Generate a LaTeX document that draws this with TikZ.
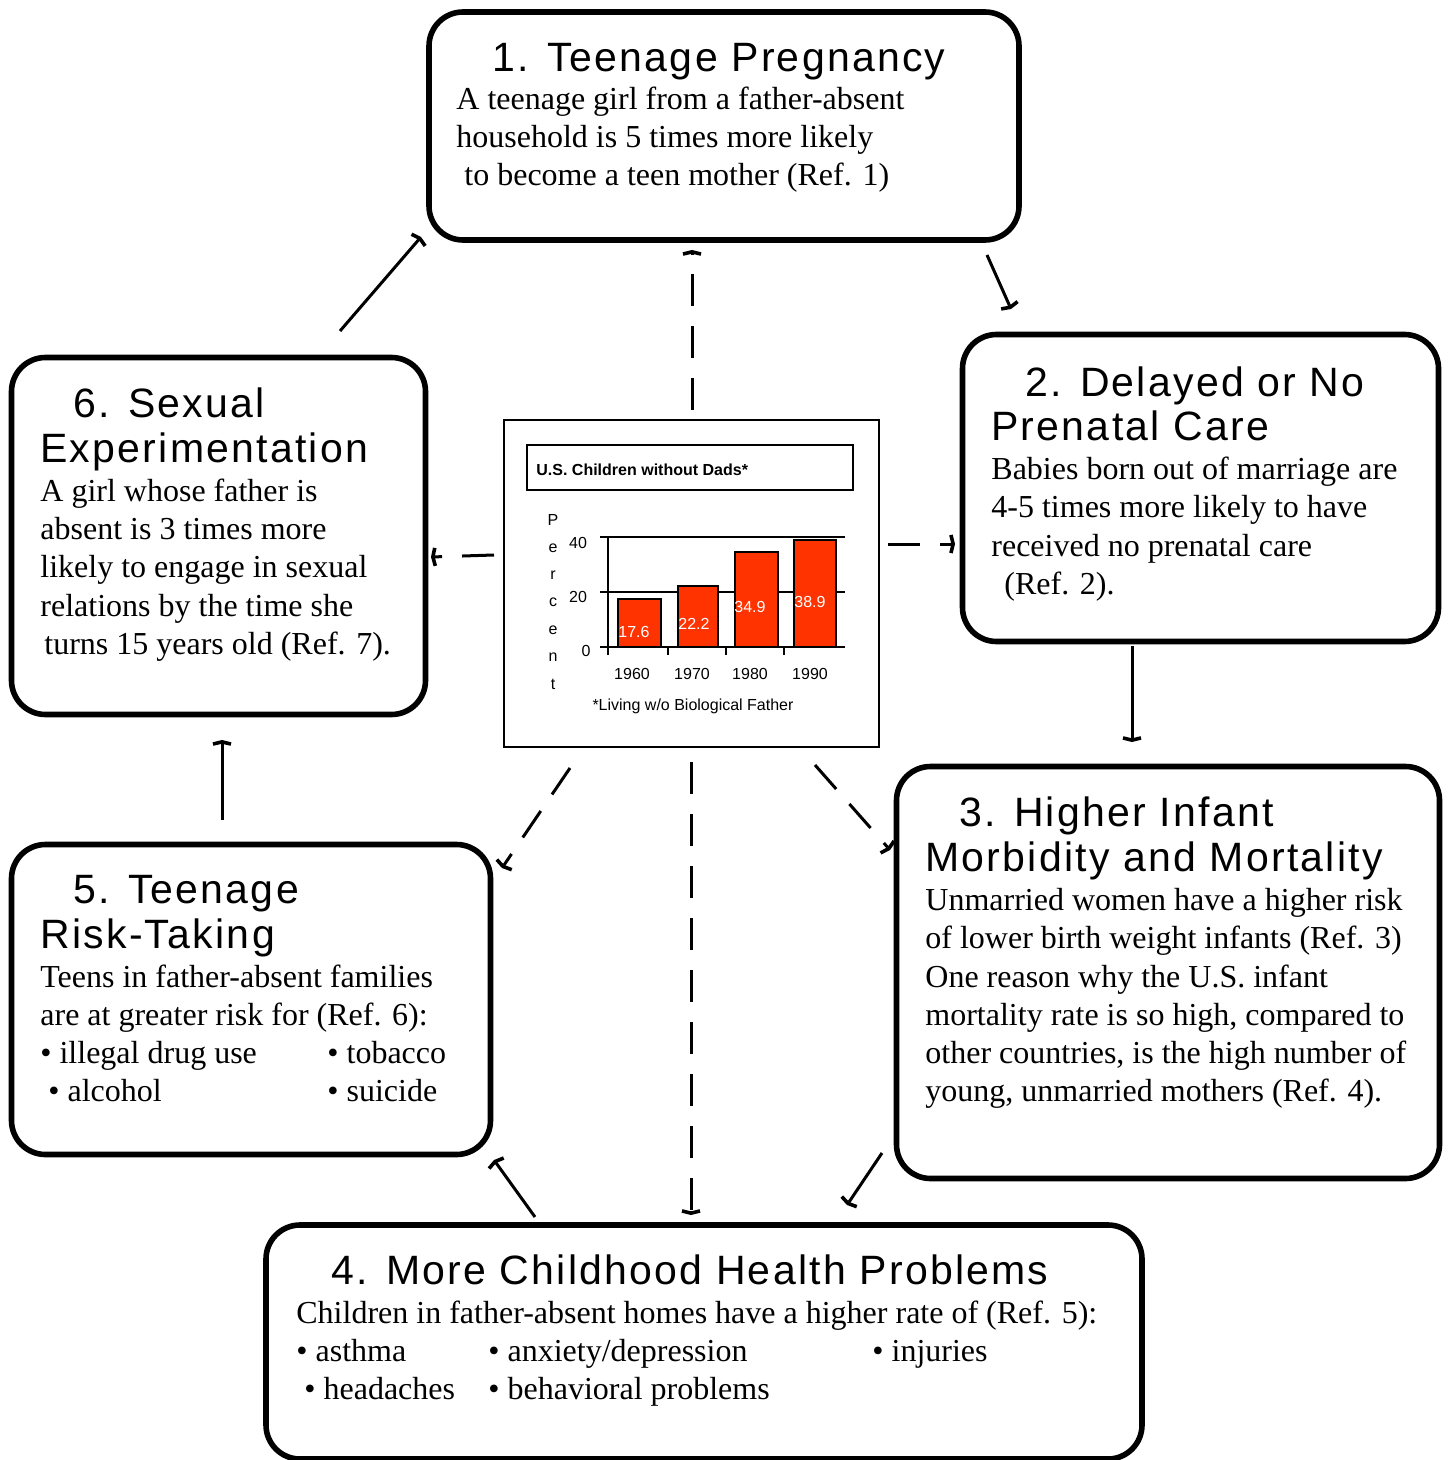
\documentclass[tikz,border=0pt]{standalone}
\usepackage{fontspec}
\setmainfont{Liberation Serif}
\newfontfamily\titlefont{Liberation Sans}[LetterSpace=5.5]
\newfontfamily\chartfont{Liberation Sans}
\usetikzlibrary{arrows.meta}
\definecolor{barred}{HTML}{FF3300}
\begin{document}
\begin{tikzpicture}[x=0.5pt,y=-0.5pt]
\tikzset{
  box/.style={draw, line width=2.8pt, rounded corners=17pt, inner sep=0pt, outer sep=0pt},
  body/.style={anchor=base west, inner sep=0pt, font=\fontsize{16}{19}\selectfont},
  ttl/.style={anchor=base west, inner sep=0pt, font=\titlefont\fontsize{20.5}{25}\selectfont},
  conn/.style={line width=1.5pt, -{Straight Barb[length=1.1pt,width=9pt,line width=1.8pt]}},
  dconn/.style={conn, dash pattern=on 16pt off 10pt},
  ch/.style={font=\chartfont\fontsize{8}{9.6}\selectfont, inner sep=0pt},
  chline/.style={line width=0.8pt},
}
\useasboundingbox (0,0) rectangle (1448,1460);

% boxes
\node[box, minimum width=295pt, minimum height=114pt] (b1) at (724,126) {};
\node[box, minimum width=238pt, minimum height=153.5pt] (b2) at (1200.5,488) {};
\node[box, minimum width=271.5pt, minimum height=206pt] (b3) at (1168,972.5) {};
\node[box, minimum width=438pt, minimum height=117pt] (b4) at (704,1342) {};
\node[box, minimum width=239.5pt, minimum height=155pt] (b5) at (251,999.5) {};
\node[box, minimum width=207pt, minimum height=178.5pt] (b6) at (218.5,536) {};

% box 1
\node[ttl] (t1) at (492,72) {1. Teenage Pregnancy};
\node[body] (t1a) at (456,110) {A teenage girl from a father-absent};
\node[body] (t1b) at (456,148) {household is 5 times more likely};
\node[body] (t1c) at (464,186) {to become a teen mother (Ref. 1)};

% box 2
\node[ttl] (t2) at (1025,396) {2. Delayed or No};
\node[ttl] (t2b) at (991,440) {Prenatal Care};
\node[body] (t2c) at (991,479) {Babies born out of marriage are};
\node[body] (t2d) at (991,517) {4-5 times more likely to have};
\node[body] (t2e) at (991,556) {received no prenatal care};
\node[body] (t2f) at (1004,594) {(Ref. 2).};

% box 3
\node[ttl] (t3) at (959,826) {3. Higher Infant};
\node[ttl] (t3b) at (925,871) {Morbidity and Mortality};
\node[body] (t3c) at (925,910) {Unmarried women have a higher risk};
\node[body] (t3d) at (925,948) {of lower birth weight infants (Ref. 3)};
\node[body] (t3e) at (925,987) {One reason why the U.S. infant};
\node[body] (t3f) at (925,1025) {mortality rate is so high, compared to};
\node[body] (t3g) at (925,1063) {other countries, is the high number of};
\node[body] (t3h) at (925,1101) {young, unmarried mothers (Ref. 4).};

% box 4
\node[ttl] (t4) at (331,1284) {4. More Childhood Health Problems};
\node[body] (t4a) at (296,1323) {Children in father-absent homes have a higher rate of (Ref. 5):};
\node[body] (t4b) at (296,1361) {\textbullet\ asthma};
\node[body] (t4c) at (488,1361) {\textbullet\ anxiety/depression};
\node[body] (t4d) at (872,1361) {\textbullet\ injuries};
\node[body] (t4e) at (304,1399) {\textbullet\ headaches};
\node[body] (t4f) at (488,1399) {\textbullet\ behavioral problems};

% box 5
\node[ttl] (t5) at (73,903) {5. Teenage};
\node[ttl] (t5b) at (40,948) {Risk-Taking};
\node[body] (t5c) at (40,987) {Teens in father-absent families};
\node[body] (t5d) at (40,1025) {are at greater risk for (Ref. 6):};
\node[body] (t5e) at (40,1063) {\textbullet\ illegal drug use};
\node[body] (t5f) at (327,1063) {\textbullet\ tobacco};
\node[body] (t5g) at (48,1101) {\textbullet\ alcohol};
\node[body] (t5h) at (327,1101) {\textbullet\ suicide};

% box 6
\node[ttl] (t6) at (73,417) {6. Sexual};
\node[ttl] (t6b) at (40,462) {Experimentation};
\node[body] (t6c) at (40,501) {A girl whose father is};
\node[body] (t6d) at (40,539) {absent is 3 times more};
\node[body] (t6e) at (40,577) {likely to engage in sexual};
\node[body] (t6f) at (40,616) {relations by the time she};
\node[body] (t6g) at (44,654) {turns 15 years old (Ref. 7).};

% chart
\node[draw, line width=1pt, inner sep=0pt, minimum width=187.5pt, minimum height=163.5pt] (chart) at (691.5,583.5) {};
\node[draw, line width=1pt, inner sep=0pt, minimum width=163pt, minimum height=22.5pt] (ctitle) at (690,467.5) {};
\node[ch, anchor=west, font=\chartfont\bfseries\fontsize{8}{9.6}\selectfont] (ctext) at (536,470) {U.S. Children without Dads*};
\draw[chline] (600,537) -- (845,537);
\draw[chline] (600,592) -- (845,592);
\draw[chline] (600,647) -- (845,647);
\draw[chline] (608,537) -- (608,655);
\foreach \tx in {668,726,784} \draw[chline] (\tx,647) -- (\tx,655);
\draw[line width=1pt, fill=barred] (618,647) rectangle (661,599);
\draw[line width=1pt, fill=barred] (678,647) rectangle (718,586);
\draw[line width=1pt, fill=barred] (735,647) rectangle (778,552);
\draw[line width=1pt, fill=barred] (794,647) rectangle (836,540);
\node[ch, text=white] (v1) at (634,632) {17.6};
\node[ch, text=white] (v2) at (694,624) {22.2};
\node[ch, text=white] (v3) at (750,607) {34.9};
\node[ch, text=white] (v4) at (810,602) {38.9};
\node[ch] (y40) at (578,543) {40};
\node[ch] (y20) at (578,597) {20};
\node[ch] (y0) at (586,651) {0};
\node[ch] (x1) at (632,674) {1960};
\node[ch] (x2) at (692,674) {1970};
\node[ch] (x3) at (750,674) {1980};
\node[ch] (x4) at (810,674) {1990};
\node[ch] (pp) at (553,520) {P};
\node[ch] (pe) at (553,548) {e};
\node[ch] (pr) at (553,575) {r};
\node[ch] (pc) at (553,602) {c};
\node[ch] (pe2) at (553,630) {e};
\node[ch] (pn) at (553,657) {n};
\node[ch] (pt) at (553,684) {t};
\node[ch] (foot) at (693,706) {*Living w/o Biological Father};

% connector end points
\coordinate (a61) at (340,331); \coordinate (e61) at (421,237);
\coordinate (a12) at (987,255); \coordinate (e12) at (1011,309);
\coordinate (a23) at (1132,646); \coordinate (e23) at (1132,742);
\coordinate (a34) at (882,1153); \coordinate (e34) at (847,1205);
\coordinate (a45) at (535,1217); \coordinate (e45) at (494,1160);
\coordinate (a56) at (222,820); \coordinate (e56) at (222,740);
\coordinate (c1) at (692,410); \coordinate (d1) at (692,250);
\coordinate (c2) at (888,544); \coordinate (d2) at (955,544);
\coordinate (c6) at (494,555); \coordinate (d6) at (431,557);
\coordinate (c5) at (570,768); \coordinate (d5) at (502,868);
\coordinate (c3) at (815,765); \coordinate (d3) at (890,850);
\coordinate (c4) at (691,762); \coordinate (d4) at (691,1215);

\draw[conn] (a61) -- (e61);
\draw[conn] (a12) -- (e12);
\draw[conn] (a23) -- (e23);
\draw[conn] (a34) -- (e34);
\draw[conn] (a45) -- (e45);
\draw[conn] (a56) -- (e56);
\draw[dconn] (c1) -- (d1);
\draw[dconn] (c2) -- (d2);
\draw[dconn] (c6) -- (d6);
\draw[dconn] (c5) -- (d5);
\draw[dconn] (c3) -- (d3);
\draw[dconn] (c4) -- (d4);
\end{tikzpicture}
\end{document}
